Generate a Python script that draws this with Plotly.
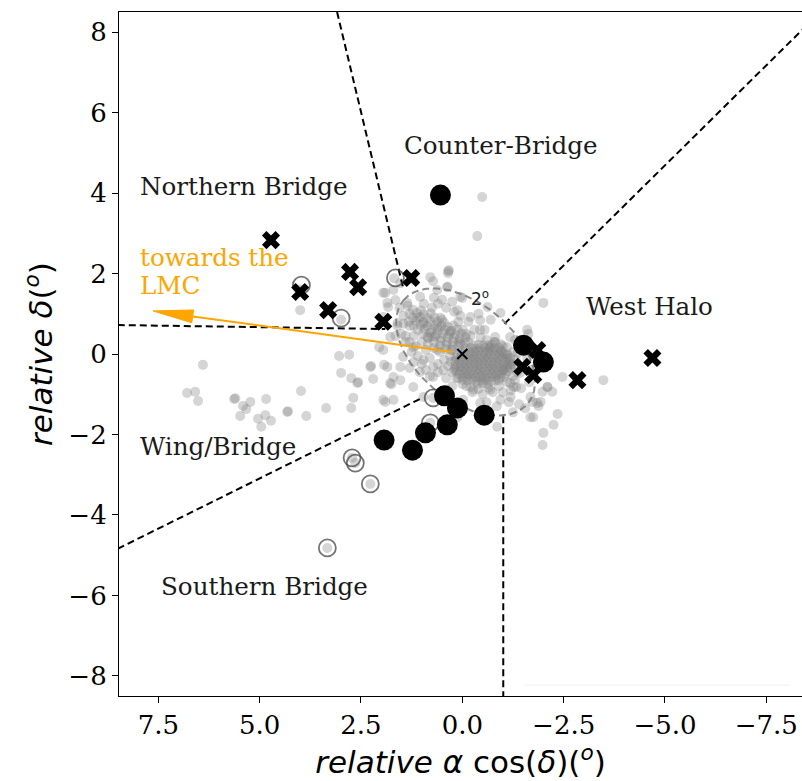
import numpy as np
import plotly.graph_objects as go

# ---------------------------------------------------------------------------
# Field stars: scattered population around the cluster
field_outer_x = [6.40, 6.79, 6.59, 6.52, 5.63, 5.60, 5.41, 5.23, 5.33, 5.48, 4.84, 5.04, 4.86, 4.72, 4.96,
                 4.32, 4.30, 3.98, 3.85, 3.36, 3.04, 2.79, 2.99, 2.74, 2.59, 2.57, 2.69, 2.74, 2.27, 2.25,
                 2.20, 2.05, 1.93, 1.75, 1.90, 1.65, 4.00, 4.00, 2.99, 1.90, 1.65, 1.83, 1.68, -0.49, -0.37,
                 0.35, 0.33, 0.72, 0.37, 0.05, -2.00, -1.63, -2.47, -3.48, -1.98, -2.22, -2.10, -1.73, -1.93,
                 -1.88, -2.35, -1.68, -2.25, -1.98, -1.33, -1.19, 2.72, 2.64, 2.27, 3.33, 0.72, 0.79]
field_outer_y = [-0.27, -0.97, -0.94, -1.17, -1.12, -1.10, -1.29, -1.19, -1.37, -1.54, -1.12, -1.61, -1.52, -1.66, -1.81,
                 -1.44, -1.42, -0.92, -1.54, -1.34, -0.05, -0.02, -0.47, -0.60, -0.72, -0.70, -1.09, -1.34, -0.32, -0.30,
                 -0.62, 0.17, -0.27, -0.75, -1.19, 0.45, 1.09, 1.60, 0.85, 1.52, 1.34, 1.17, 1.88, 3.90, 2.93,
                 2.06, 2.08, 1.81, 1.66, 1.42, 1.27, 0.50, -0.57, -0.65, -0.94, -0.94, -0.82, -1.19, -1.19,
                 -1.29, -1.49, -1.57, -1.76, -2.26, -0.82, -1.07, -2.58, -2.71, -3.23, -4.82, -1.09, -1.71]

# Field stars: diffuse halo just around the core
field_halo_x = [1.95, 1.70, 1.85, 1.53, 1.21, 0.79, 0.37, 0.35, 0.00, -0.44, -0.62, -0.94, -0.81, -0.94, -1.18,
                1.78, 1.95, 1.85, 1.70, 1.78, 1.53, 1.70, 1.95, 1.21, 0.96, 0.72, 0.37, -0.02, -0.27, -0.02,
                -0.69, -0.44, -0.94, -1.26, -1.43, -1.68, -1.85, -2.10, -1.60, -1.36, 0.12, 0.47, -0.86, -1.75,
                -2.00, 1.95, 1.60, 1.36, 1.04, 0.62, 0.12, -0.20, -0.44, -0.69, -1.01, -1.18, 1.21, 1.46, 1.53,
                0.96, 0.72, 0.47, 0.62, 0.86]
field_halo_y = [1.52, 1.59, 1.27, 1.76, 1.84, 1.91, 1.67, 2.01, 1.39, 0.84, 1.17, 1.02, 0.42, 0.10, 0.42,
                0.42, 0.10, -0.32, -0.57, -0.72, -0.65, -1.14, -1.14, -0.82, -1.07, -0.57, -0.89, -0.65, -0.89, -1.14,
                -0.89, -1.22, -1.14, -0.82, -0.47, -1.07, -1.22, -0.82, 0.60, 0.02, -1.57, -1.81, -1.81, -1.57,
                -1.96, 0.92, 0.77, 1.27, 1.42, 1.59, 1.09, 0.92, 0.60, 0.17, -0.40, -0.72, 0.17, -0.07, -0.32,
                -0.15, -0.32, -0.40, 0.10, 0.42]

# Field stars: inner halo filling the 2-degree contour
field_inner_x = [1.55, 1.45, 1.60, 1.50, 1.40, 1.35, 1.45, 0.60, 0.40, 0.20, 0.75, 0.50, 0.25, 0.05,
                 -0.15, 0.10, -0.30, -0.20, -0.45, -0.60, -0.80, -0.55, -1.00, -1.10, -1.20, -1.35, -1.30,
                 -1.45, -1.20, -1.00, -0.75, -0.50, -0.25, -0.10, 0.10, 0.20, 0.35, 0.30, 0.45, 0.60, 0.55,
                 0.80, 0.90, 1.00, 0.85, 0.70, 1.20, -1.15, -0.85, -0.60, -1.40, -1.55, -1.25, 0.60, 0.40,
                 0.25, 1.30, 1.10, 0.95, 0.70, -0.40, -0.70, -1.30, -1.55, -1.60, -1.70, -1.65]
field_inner_y = [1.15, 0.95, 0.70, 0.50, 0.30, 1.20, 0.75, 1.25, 1.15, 1.05, 1.15, 1.35, 1.30, 0.95,
                 0.80, 0.80, 0.60, 0.45, 0.40, 0.35, 0.30, 0.60, 0.20, 0.00, -0.25, -0.45, -0.65,
                 -0.85, -0.90, -0.95, -0.95, -1.00, -0.95, -0.80, -0.60, -0.40, -0.30, -0.05, -0.15, -0.25, 0.05,
                 -0.10, 0.10, 0.30, 0.25, 0.15, 0.45, -1.20, -1.30, -1.20, -1.25, -1.35, -1.45, -0.45, -0.60,
                 -0.80, 0.70, 0.90, 1.25, 1.40, 1.00, 0.85, 0.35, 0.20, -0.10, -0.40, -0.70]

# Field stars: north-eastern lobe of the core
field_lobe_a_x = [1.22, 1.02,
                  1.30, 1.12, 0.95, 0.78,
                  1.22, 1.04, 0.86, 0.69, 0.54,
                  1.32, 1.14, 0.96, 0.79, 0.62, 0.45,
                  1.20, 1.03, 0.86, 0.69, 0.52, 0.36, 0.22,
                  1.10, 0.93, 0.76, 0.59, 0.43, 0.27, 0.12, -0.01,
                  0.97, 0.80, 0.64, 0.48, 0.32, 0.17, 0.03, -0.10,
                  0.84, 0.68, 0.52, 0.36, 0.21, 0.06, -0.08,
                  0.70, 0.54, 0.38, 0.23, 0.08, -0.06,
                  0.55, 0.39, 0.24, 0.09,
                  0.42, 0.27,
                  1.25, 1.10, 1.20, 1.00, 0.90, 1.05, 0.80, 1.30, 1.15, 1.30, 1.40,
                  0.95, 0.62, 0.30, 0.75, 0.50]
field_lobe_a_y = [1.10, 1.08,
                  1.00, 1.02, 0.99, 1.01,
                  0.90, 0.92, 0.89, 0.91, 0.90,
                  0.80, 0.82, 0.79, 0.81, 0.80, 0.78,
                  0.70, 0.72, 0.69, 0.71, 0.70, 0.68, 0.71,
                  0.60, 0.62, 0.59, 0.61, 0.60, 0.58, 0.61, 0.60,
                  0.50, 0.52, 0.49, 0.51, 0.50, 0.48, 0.51, 0.50,
                  0.40, 0.42, 0.39, 0.41, 0.40, 0.38, 0.41,
                  0.30, 0.32, 0.29, 0.31, 0.30, 0.28,
                  0.20, 0.22, 0.19, 0.21,
                  0.12, 0.10,
                  0.05, -0.05, -0.20, -0.25, -0.40, -0.45, -0.55, -0.35, 0.20, 0.30, 0.45,
                  0.75, 0.66, 0.55, 0.45, 0.85]

# Field stars: dense south-western lobe of the core
field_lobe_b_x = [-0.28, -0.40, -0.52, -0.64, -0.73,
                  -0.08, -0.20, -0.31, -0.43, -0.55, -0.66, -0.78, -0.90,
                  0.04, -0.07, -0.19, -0.30, -0.42, -0.53, -0.65, -0.76, -0.88, -0.99,
                  0.12, 0.01, -0.11, -0.22, -0.34, -0.45, -0.57, -0.68, -0.80, -0.91, -1.03, -1.12,
                  0.16, 0.05, -0.07, -0.18, -0.30, -0.41, -0.53, -0.64, -0.76, -0.87, -0.99, -1.10, -1.18,
                  0.18, 0.07, -0.05, -0.16, -0.28, -0.39, -0.51, -0.62, -0.74, -0.85, -0.97, -1.08, -1.19,
                  0.15, 0.04, -0.08, -0.19, -0.31, -0.42, -0.54, -0.65, -0.77, -0.88, -1.00, -1.11, -1.20,
                  0.17, 0.05, -0.06, -0.18, -0.29, -0.41, -0.52, -0.64, -0.75, -0.87, -0.98, -1.10, -1.19,
                  0.14, 0.03, -0.09, -0.20, -0.32, -0.43, -0.55, -0.66, -0.78, -0.89, -1.01, -1.12,
                  0.08, -0.03, -0.15, -0.26, -0.38, -0.49, -0.61, -0.72, -0.84, -0.95, -1.07,
                  -0.01, -0.12, -0.24, -0.35, -0.47, -0.58, -0.70, -0.81, -0.93, -1.02,
                  -0.13, -0.25, -0.36, -0.48, -0.59, -0.71, -0.82, -0.90,
                  -0.38, -0.50, -0.62,
                  0.25, 0.28, 0.25, 0.15, 0.00, -0.20, -0.40, -0.65, -0.90, -1.10, -1.25, -1.30, -1.32,
                  -1.25, -1.10, -0.95, -0.80, -0.15, 0.05]
field_lobe_b_y = [0.22, 0.23, 0.21, 0.22, 0.23,
                  0.14, 0.15, 0.13, 0.14, 0.15, 0.13, 0.14, 0.15,
                  0.06, 0.07, 0.05, 0.06, 0.07, 0.05, 0.06, 0.07, 0.05, 0.06,
                  -0.02, -0.01, -0.03, -0.02, -0.01, -0.03, -0.02, -0.01, -0.03, -0.02, -0.01, -0.03,
                  -0.10, -0.09, -0.11, -0.10, -0.09, -0.11, -0.10, -0.09, -0.11, -0.10, -0.09, -0.11, -0.10,
                  -0.18, -0.17, -0.19, -0.18, -0.17, -0.19, -0.18, -0.17, -0.19, -0.18, -0.17, -0.19, -0.18,
                  -0.26, -0.25, -0.27, -0.26, -0.25, -0.27, -0.26, -0.25, -0.27, -0.26, -0.25, -0.27, -0.26,
                  -0.34, -0.33, -0.35, -0.34, -0.33, -0.35, -0.34, -0.33, -0.35, -0.34, -0.33, -0.35, -0.34,
                  -0.42, -0.41, -0.43, -0.42, -0.41, -0.43, -0.42, -0.41, -0.43, -0.42, -0.41, -0.43,
                  -0.50, -0.49, -0.51, -0.50, -0.49, -0.51, -0.50, -0.49, -0.51, -0.50, -0.49,
                  -0.58, -0.57, -0.59, -0.58, -0.57, -0.59, -0.58, -0.57, -0.59, -0.58,
                  -0.66, -0.65, -0.67, -0.66, -0.65, -0.67, -0.66, -0.65,
                  -0.74, -0.73, -0.75,
                  0.10, -0.20, -0.45, -0.60, -0.75, -0.82, -0.87, -0.84, -0.80, -0.70, -0.55, -0.35, -0.15,
                  0.05, 0.17, 0.24, 0.30, 0.30, 0.25]

# Filled circles
circ_x = [0.54, -1.51, -2.00, 0.44, 0.12, 0.37, -0.54, 0.91, 1.23, 1.93]
circ_y = [3.95, 0.22, -0.20, -1.04, -1.34, -1.76, -1.52, -1.96, -2.39, -2.14]

# Open circles
open_x = [1.65, 3.97, 2.99, 2.72, 2.64, 2.27, 3.33, 0.72, 0.79]
open_y = [1.89, 1.71, 0.89, -2.58, -2.71, -3.23, -4.82, -1.09, -1.71]

# Crosses
cross_x = [4.72, 4.00, 2.77, 2.57, 3.31, 1.95, 1.26, -1.48, -1.85, -1.75, -2.84, -4.69]
cross_y = [2.83, 1.54, 2.04, 1.66, 1.09, 0.80, 1.89, -0.32, 0.10, -0.52, -0.65, -0.10]

# Region boundaries (x0, y0, x1, y1)
boundaries = [
    (3.09, 8.50, 1.46, 1.64),
    (8.50, 0.72, 1.90, 0.62),
    (-8.50, 8.17, -1.01, 0.72),
    (8.50, -4.84, 0.99, -1.09),
    (-1.01, -1.55, -1.01, -8.50),
]

# Region names (text, x, y)
regions = [
    ("Northern Bridge", 7.99, 4.17),
    ("Counter-Bridge", 1.48, 5.19),
    ("West Halo", -2.99, 1.19),
    ("Wing/Bridge", 7.99, -2.31),
    ("Southern Bridge", 7.48, -5.79),
]

# Direction towards the LMC
arrow_start = (0.25, 0.05)
arrow_tip = (7.63, 1.07)

# 2-degree contour (centre, semi-axes, orientation in degrees)
ring_center = (-0.08, 0.05)
ring_axes = (2.0, 1.2)
ring_angle = 40.0

x_ticks = [7.5, 5.0, 2.5, 0.0, -2.5, -5.0, -7.5]
y_ticks = [-8, -6, -4, -2, 0, 2, 4, 6, 8]

X_RANGE = [8.47, -8.38]
Y_RANGE = [-8.5, 8.5]
PX_X = 40.53  # pixels per degree along x
PX_Y = 40.24  # pixels per degree along y

LABEL_SIZE = 24.6

fig = go.Figure()

field_x = field_outer_x + field_halo_x + field_inner_x + field_lobe_a_x + field_lobe_b_x
field_y = field_outer_y + field_halo_y + field_inner_y + field_lobe_a_y + field_lobe_b_y
fig.add_trace(go.Scatter(
    x=field_x, y=field_y, mode="markers",
    marker=dict(size=10, color="rgba(128,128,128,0.33)", line=dict(width=0)),
    hoverinfo="skip"))

# region boundaries
for x0, y0, x1, y1 in boundaries:
    fig.add_trace(go.Scatter(x=[x0, x1], y=[y0, y1], mode="lines",
                             line=dict(color="black", width=2, dash="7px,4px"),
                             hoverinfo="skip"))

# 2-degree contour
t = np.linspace(0, 2 * np.pi, 200)
th = np.deg2rad(ring_angle)
ex = ring_axes[0] * np.cos(t)
ey = ring_axes[1] * np.sin(t)
rx = ring_center[0] + ex * np.cos(th) - ey * np.sin(th)
ry = ring_center[1] + ex * np.sin(th) + ey * np.cos(th)
fig.add_trace(go.Scatter(x=rx, y=ry, mode="lines",
                         line=dict(color="rgba(128,128,128,0.9)", width=2, dash="7px,4px"),
                         hoverinfo="skip"))

# arrow towards the LMC, with the head drawn in screen proportions
sx, sy = arrow_start
tx, ty = arrow_tip
dxp, dyp = (tx - sx) * PX_X, (ty - sy) * PX_Y
ln = np.hypot(dxp, dyp)
ux, uy = dxp / ln, dyp / ln
head_len, head_half = 40.0, 6.5
base_x = tx - ux * head_len / PX_X
base_y = ty - uy * head_len / PX_Y
c1x = base_x + (-uy * head_half) / PX_X
c1y = base_y + (ux * head_half) / PX_Y
c2x = base_x - (-uy * head_half) / PX_X
c2y = base_y - (ux * head_half) / PX_Y
fig.add_trace(go.Scatter(x=[sx, base_x], y=[sy, base_y], mode="lines",
                         line=dict(color="#FFA500", width=2), hoverinfo="skip"))
fig.add_trace(go.Scatter(x=[tx, c1x, c2x, tx], y=[ty, c1y, c2y, ty], mode="lines",
                         fill="toself", fillcolor="#FFA500",
                         line=dict(color="#FFA500", width=1), hoverinfo="skip"))

# open circles
fig.add_trace(go.Scatter(
    x=open_x, y=open_y, mode="markers",
    marker=dict(size=17, color="rgba(255,255,255,0)",
                line=dict(color="rgba(70,70,70,0.75)", width=1.8)),
    hoverinfo="skip"))

# filled circles
fig.add_trace(go.Scatter(
    x=circ_x, y=circ_y, mode="markers",
    marker=dict(size=21, color="black", line=dict(width=0)),
    hoverinfo="skip"))

# crosses
fig.add_trace(go.Scatter(
    x=cross_x, y=cross_y, mode="markers",
    marker=dict(symbol="x", size=16, color="black", line=dict(width=0)),
    hoverinfo="skip"))

# centre
fig.add_trace(go.Scatter(
    x=[0.0], y=[0.0], mode="markers",
    marker=dict(symbol="x-thin", size=10, line=dict(color="black", width=2)),
    hoverinfo="skip"))

annotations = []
for name, x, y in regions:
    annotations.append(dict(x=x, y=y, text=name, showarrow=False, xanchor="left",
                            yanchor="middle",
                            font=dict(family="DejaVu Serif", size=LABEL_SIZE, color="#1a1a1a")))
annotations.append(dict(x=7.99, y=2.41, text="towards the", showarrow=False, xanchor="left",
                        yanchor="middle", font=dict(family="DejaVu Serif", size=LABEL_SIZE, color="#FFA500")))
annotations.append(dict(x=7.99, y=1.71, text="LMC", showarrow=False, xanchor="left",
                        yanchor="middle", font=dict(family="DejaVu Serif", size=LABEL_SIZE, color="#FFA500")))
annotations.append(dict(x=-0.44, y=1.39, text="2<sup>o</sup>", showarrow=False,
                        font=dict(family="DejaVu Sans", size=17, color="#222222")))

# faint rule near the bottom
shapes = [dict(type="line", x0=-1.53, x1=-8.09, y0=-8.23, y1=-8.23, xref="x", yref="y",
               line=dict(color="#efefef", width=1))]

fig.update_layout(
    width=802, height=781,
    margin=dict(l=119, r=0, t=12, b=85),
    plot_bgcolor="white", paper_bgcolor="white",
    showlegend=False,
    annotations=annotations,
    shapes=shapes,
)
fig.update_xaxes(
    range=X_RANGE, tickvals=x_ticks, ticktext=[f"{v:.1f}".replace("-", "\u2212") for v in x_ticks],
    ticks="outside", ticklen=6, tickwidth=1.2, tickcolor="black",
    showline=True, linecolor="black", linewidth=1.2, mirror=True,
    showgrid=False, zeroline=False,
    tickfont=dict(family="DejaVu Serif", size=26, color="black"),
    title=dict(text="<i>relative α</i> cos(<i>δ</i>)(<i><sup>o</sup></i>)",
               font=dict(family="DejaVu Sans", size=31, color="black"), standoff=4),
)
fig.update_yaxes(
    range=Y_RANGE, tickvals=y_ticks, ticktext=[str(v).replace("-", "\u2212") for v in y_ticks],
    ticks="outside", ticklen=6, tickwidth=1.2, tickcolor="black",
    showline=True, linecolor="black", linewidth=1.2, mirror=False,
    showgrid=False, zeroline=False,
    tickfont=dict(family="DejaVu Serif", size=26, color="black"),
    title=dict(text="<i>relative δ</i>(<i><sup>o</sup></i>)",
               font=dict(family="DejaVu Sans", size=31, color="black"), standoff=6),
)

fig.write_html("out.html")
